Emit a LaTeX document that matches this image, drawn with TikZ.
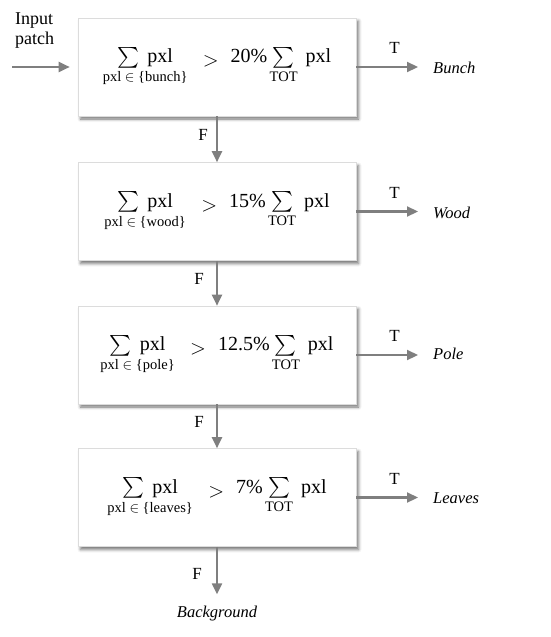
\documentclass[tikz,border=0pt]{standalone}
\usepackage{fontspec}
\usepackage{amsmath}
\setmainfont{Liberation Serif}
\DeclareMathSizes{20}{20}{14.5}{10}
\usetikzlibrary{arrows.meta,shadows.blur}
\definecolor{arrgray}{HTML}{7F7F7F}
\definecolor{boxborder}{HTML}{DCDCDC}
\newcommand{\condexpr}[2]{$\mathop{\textstyle\sum\mkern4mu\text{pxl}}\limits_{\text{pxl $\in$ \{#1\}}}\hspace{12pt}\raisebox{-4pt}{$>$}\hspace{12pt}\text{#2}\mkern-1mu\mathop{\textstyle\sum}\limits_{\text{TOT}}\mkern4mu\text{pxl}$}
\tikzset{
  condbox/.style={draw=boxborder, line width=0.6pt, fill=white, minimum width=278pt, minimum height=98pt, inner sep=0pt,
    font=\fontsize{20}{24}\selectfont,
    blur shadow={shadow xshift=2.5pt, shadow yshift=-3pt, shadow blur radius=3pt, shadow opacity=55}},
  flowarr/.style={draw=arrgray, line width=2.2pt, -{Triangle[length=11pt,width=10pt]}},
  outlabel/.style={font=\fontsize{16.5}{20}\selectfont\itshape, inner sep=0pt},
  tflabel/.style={font=\fontsize{17}{20}\selectfont, inner sep=0pt},
}
\begin{document}
\begin{tikzpicture}[x=1pt,y=-1pt]
\useasboundingbox (0,0) rectangle (550,637);
\node[condbox] (b1) at (217,67) {\condexpr{bunch}{20\%}};
\node[condbox] (b2) at (217,211.5) {\condexpr{wood}{15\%}};
\node[condbox] (b3) at (217,355) {\condexpr{pole}{12.5\%}};
\node[condbox] (b4) at (217,497.5) {\condexpr{leaves}{7\%}};

\node[align=left, font=\fontsize{18}{20}\selectfont, inner sep=0pt, anchor=north west] (inp) at (15,13) {Input\\patch};
\coordinate (start) at (12,67);

\node[outlabel, anchor=west] (bunch) at (433,68) {Bunch};
\node[outlabel, anchor=west] (wood) at (433,213) {Wood};
\node[outlabel, anchor=west] (pole) at (433,354) {Pole};
\node[outlabel, anchor=west] (leaves) at (433,498) {Leaves};
\node[outlabel] (bg) at (217,614) {Background};

\draw[flowarr, shorten >=8pt] (start) -- (b1.west);

\draw[flowarr, shorten >=15pt] (b1.east) -- (bunch.west |- b1.east) node[midway, above=12pt, tflabel] {T};
\draw[flowarr, shorten >=15pt] (b2.east) -- (wood.west |- b2.east) node[midway, above=12pt, tflabel] {T};
\draw[flowarr, shorten >=15pt] (b3.east) -- (pole.west |- b3.east) node[midway, above=12pt, tflabel] {T};
\draw[flowarr, shorten >=15pt] (b4.east) -- (leaves.west |- b4.east) node[midway, above=12pt, tflabel] {T};

\draw[flowarr] (b1.south) -- (b2.north) node[pos=0.4, left=8pt, tflabel] {F};
\draw[flowarr] (b2.south) -- (b3.north) node[pos=0.4, left=12pt, tflabel] {F};
\draw[flowarr] (b3.south) -- (b4.north) node[pos=0.4, left=12pt, tflabel] {F};
\draw[flowarr, shorten >=12pt] (b4.south) -- (bg.north) node[pos=0.45, left=14pt, tflabel] {F};
\end{tikzpicture}
\end{document}
